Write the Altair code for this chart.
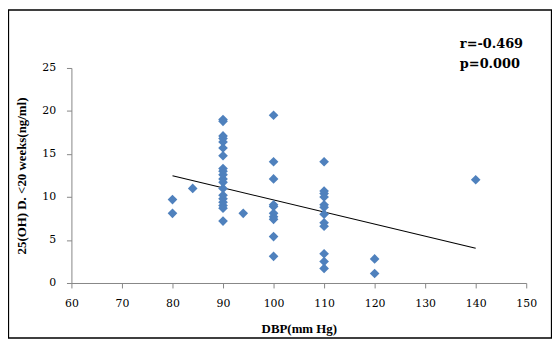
import altair as alt
import pandas as pd

# Scatter data
dbp = [80, 80, 84,
       90, 90, 90, 90, 90, 90, 90, 90, 90, 90, 90, 90, 90, 90, 90, 90, 90, 90, 90,
       94,
       100, 100, 100, 100, 100, 100, 100, 100, 100, 100,
       110, 110, 110, 110, 110, 110, 110, 110, 110, 110, 110, 110,
       120, 120,
       140]
vitd = [9.7, 8.1, 11.0,
        19.0, 18.8, 17.1, 16.8, 16.4, 15.7, 14.8, 13.3, 13.0, 12.6, 12.1, 11.7, 11.0, 10.2, 9.8, 9.4, 9.0, 8.7, 7.2,
        8.1,
        19.5, 14.1, 12.1, 9.1, 8.9, 8.1, 7.7, 7.4, 5.4, 3.1,
        14.1, 10.7, 10.4, 10.0, 9.1, 8.8, 8.0, 7.0, 6.6, 3.4, 2.5, 1.7,
        2.8, 1.1,
        12.0]

trend_x = [80, 140]
trend_y = [12.46, 4.04]

annotation_lines = ["r=-0.469", "p=0.000"]

x_ticks = [60, 70, 80, 90, 100, 110, 120, 130, 140, 150]
y_ticks = [0, 5, 10, 15, 20, 25]

pts = pd.DataFrame({"x": dbp, "y": vitd})
trend = pd.DataFrame({"x": trend_x, "y": trend_y})
ann = pd.DataFrame({"t": ["\n".join(annotation_lines)]})
frame = pd.DataFrame({"k": [0]})

W, H = 459, 217

xscale = alt.Scale(domain=[60, 150], nice=False, zero=False)
yscale = alt.Scale(domain=[0, 25], nice=False)

xaxis = alt.Axis(values=x_ticks, title="DBP(mm Hg)", grid=False, labelFlush=False,
                 titleY=46, titleBaseline="middle", labelPadding=10)
yaxis = alt.Axis(values=y_ticks, title="25(OH) D. <20 weeks(ng/ml)", grid=False,
                 labelFlush=False,
                 titleX=-50, titleY=H / 2, titleAlign="center", titleBaseline="middle",
                 titleAngle=270, labelPadding=11)

points = alt.Chart(pts).mark_point(
    shape="diamond", filled=True, size=95, color="#4F81BD", opacity=1
).encode(
    x=alt.X("x:Q", scale=xscale, axis=xaxis),
    y=alt.Y("y:Q", scale=yscale, axis=yaxis),
)

line = alt.Chart(trend).mark_line(color="black", strokeWidth=1.1).encode(
    x=alt.X("x:Q", scale=xscale),
    y=alt.Y("y:Q", scale=yscale),
)

text = alt.Chart(ann).mark_text(
    align="left", baseline="middle", lineBreak="\n", lineHeight=20,
    font="DejaVu Serif", fontWeight="bold", fontSize=13, color="black"
).encode(
    x=alt.value(392), y=alt.value(-24), text="t:N"
)

border = alt.Chart(frame).mark_rect(
    fillOpacity=0, stroke="black", strokeWidth=1.3
).encode(
    x=alt.value(-63.5), x2=alt.value(484.5), y=alt.value(-58.5), y2=alt.value(272.5)
)

chart = alt.layer(border, line, points, text).properties(
    width=W, height=H,
    autosize="none",
    padding={"left": 64, "top": 59, "right": 26, "bottom": 56},
).configure_view(stroke=None).configure_axis(
    domainColor="#868686", tickColor="#868686", tickSize=5,
    labelFont="DejaVu Serif", labelFontSize=11, labelColor="black",
    titleFont="Liberation Serif", titleFontSize=13, titleFontWeight="bold", titleColor="black",
)

chart.save("out.html", embed_options={"renderer": "svg", "actions": False})
